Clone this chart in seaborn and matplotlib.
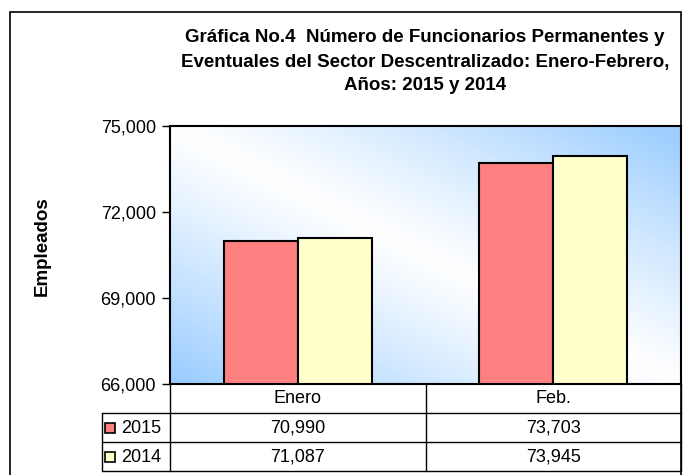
import numpy as np
import pandas as pd
import matplotlib
matplotlib.use('Agg')
import matplotlib.pyplot as plt
import seaborn as sns
from matplotlib.patches import Rectangle
from matplotlib.ticker import FuncFormatter

# data
months = ['Enero', 'Feb.']
years = ['2015', '2014']
values_2015 = [70990, 73703]
values_2014 = [71087, 73945]
y_ticks = [66000, 69000, 72000, 75000]
title_lines = ['Gráfica No.4  Número de Funcionarios Permanentes y',
               'Eventuales del Sector Descentralizado: Enero-Febrero,',
               'Años: 2015 y 2014']
y_label = 'Empleados'

colors = {'2015': '#FF8080', '2014': '#FFFFCC'}
blue = np.array([153, 204, 255]) / 255.0

df = pd.DataFrame({
    'mes': months * 2,
    'anio': [years[0]] * len(months) + [years[1]] * len(months),
    'empleados': values_2015 + values_2014,
})
table_rows = {'2015': values_2015, '2014': values_2014}

sns.set_style('white')
plt.rcParams['font.family'] = ['Liberation Sans', 'DejaVu Sans']
plt.rcParams['text.color'] = 'black'
plt.rcParams['ytick.labelcolor'] = 'black'

W, H = 683, 475
fig = plt.figure(figsize=(W / 100, H / 100), dpi=100)


def box(l, t, r, b):
    # pixel box -> figure fraction
    return [l / W, 1 - b / H, (r - l) / W, (b - t) / H]


ax = fig.add_axes(box(170, 126, 681, 384))

# diagonal gradient behind the bars
u = np.linspace(0, 1, 400)
v = np.linspace(1, 0, 200)
U, V = np.meshgrid(u, v)
t = np.clip(np.abs(U + V - 1), 0, 1)[..., None] ** 1.1
img = (1 - t) * np.ones(3) + t * blue
ax.imshow(img, extent=(-0.5, 1.5, y_ticks[0], y_ticks[-1]), aspect='auto',
          zorder=0, interpolation='bilinear')

sns.barplot(data=df, x='mes', y='empleados', hue='anio', order=months,
            hue_order=years, palette=colors, saturation=1, width=0.58,
            errorbar=None, edgecolor='black', linewidth=1.5, legend=False,
            ax=ax, zorder=2)

ax.set_xlim(-0.5, 1.5)
ax.set_ylim(y_ticks[0], y_ticks[-1])
ax.set_yticks(y_ticks)
ax.yaxis.set_major_formatter(FuncFormatter(lambda val, pos: f'{val:,.0f}'))
ax.set_xticks([])
ax.set_xlabel('')
ax.set_ylabel('')
ax.tick_params(axis='y', direction='out', length=6, width=1, color='black',
               labelsize=13, pad=4, left=True)
for s in ax.spines.values():
    s.set_color('black')
    s.set_linewidth(1.5)

for i, line in enumerate(title_lines):
    fig.text(425 / W, 1 - (38 + 24 * i) / H, line, ha='center', va='center',
             fontsize=13.5, fontweight='bold')

fig.text(42 / W, 1 - 246 / H, y_label, rotation=90, ha='center', va='center',
         fontsize=13.5, fontweight='bold')

# data table under the plot
tax = fig.add_axes(box(170, 384, 681, 471))
tax.set_xlim(-0.5, 1.5)
tax.set_ylim(3, 0)
tax.axis('off')
leg_left = -0.5 - (170 - 102) / 255.5
lk = dict(color='black', lw=1, clip_on=False)
for y in [1, 2, 3]:
    tax.plot([leg_left, 1.5], [y, y], **lk)
tax.plot([leg_left, leg_left], [1, 3], **lk)
for x in [-0.5, 0.5, 1.5]:
    tax.plot([x, x], [0, 3], **lk)

for j, m in enumerate(months):
    tax.text(j, 0.5, m, ha='center', va='center', fontsize=13)
for r, (yr, vals) in enumerate(table_rows.items(), start=1):
    tax.add_patch(Rectangle((leg_left + 0.012, r + 0.33), 0.038, 0.36,
                            facecolor=colors[yr], edgecolor='black', lw=1.2,
                            clip_on=False))
    tax.text(leg_left + 0.074, r + 0.52, yr, ha='left', va='center', fontsize=13)
    for j, val in enumerate(vals):
        tax.text(j, r + 0.52, f'{val:,}', ha='center', va='center', fontsize=13)

# outer chart border
fig.add_artist(Rectangle((10 / W, -0.05), (681 - 10) / W, 1 - 12 / H + 0.05,
                         transform=fig.transFigure, fill=False,
                         edgecolor='black', lw=1.2))

fig.savefig('out.png', dpi=100)
